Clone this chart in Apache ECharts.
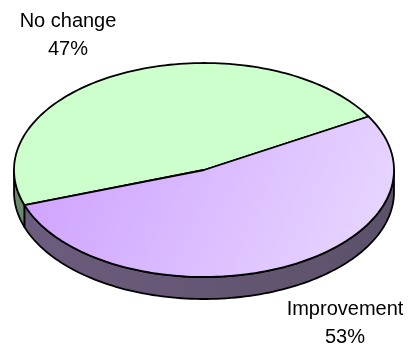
<!DOCTYPE html>
<html><head><meta charset="utf-8">
<script src="https://cdn.jsdelivr.net/npm/echarts@6/dist/echarts.min.js"></script>
<style>html,body{margin:0;padding:0;background:#fff}#c{width:412px;height:349px}</style>
</head><body><div id="c"></div>
<script>
var categories = ['No change', 'Improvement'];
var values = [47, 53];
var topColors = ['#CCFFCC', ['#CD9EFF', '#E9DAFF']];
var sideColors = ['#6B896B', ['#6C5C7E', '#5C5169']];

var total = values.reduce(function (a, b) { return a + b; }, 0);
var START = 30;      // degrees, counter-clockwise from 3 o'clock
var CX = 204, CY = 170, RX = 190, RY = 107, DEPTH = 22;

function pt(t, dz) {
  var r = t * Math.PI / 180;
  return [CX + RX * Math.cos(r), CY - RY * Math.sin(r) + dz];
}
function arc(a, b, dz) {
  var pts = [], n = Math.max(2, Math.ceil(Math.abs(b - a) / 1.5));
  for (var j = 0; j <= n; j++) pts.push(pt(a + (b - a) * j / n, dz));
  return pts;
}
function fillOf(c, horiz) {
  if (typeof c === 'string') return c;
  return new echarts.graphic.LinearGradient(0, 0, 1, horiz ? 0 : 1, [
    { offset: 0, color: c[0] }, { offset: 1, color: c[1] }
  ]);
}

function renderItem(params, api) {
  var i = params.dataIndex;
  var before = 0;
  for (var k = 0; k < i; k++) before += values[k];
  var a1 = START + before / total * 360;
  var a2 = a1 + api.value(0) / total * 360;
  var children = [];
  // front side walls: visible where sin < 0 (angles 180..360 mod 360)
  [[180, 360], [540, 720]].forEach(function (rg) {
    var lo = Math.max(a1, rg[0]), hi = Math.min(a2, rg[1]);
    if (hi > lo) {
      var pts = arc(lo, hi, 0).concat(arc(hi, lo, DEPTH));
      children.push({
        type: 'polygon', z2: 1,
        shape: { points: pts },
        style: { fill: fillOf(sideColors[i], true), stroke: '#000', lineWidth: 1.8, lineJoin: 'round' }
      });
    }
  });
  var topPts = [[CX, CY]].concat(arc(a1, a2, 0));
  children.push({
    type: 'polygon', z2: 2,
    shape: { points: topPts },
    style: { fill: fillOf(topColors[i], false), stroke: '#000', lineWidth: 1.8, lineJoin: 'round' }
  });
  return { type: 'group', children: children };
}

var labelPos = [[68, 35], [345, 323]];
var chart = echarts.init(document.getElementById('c'), null, { renderer: 'canvas' });
chart.setOption({
  animation: false,
  backgroundColor: '#ffffff',
  series: [{
    type: 'custom',
    coordinateSystem: 'none',
    renderItem: renderItem,
    data: values.map(function (v, i) { return [v, i]; })
  }],
  graphic: categories.map(function (c, i) {
    return {
      type: 'text', x: labelPos[i][0], y: labelPos[i][1], z: 10,
      style: {
        text: c + '\n' + Math.round(values[i] / total * 100) + '%',
        fontSize: 20, fontFamily: 'Liberation Sans', lineHeight: 28,
        align: 'center', verticalAlign: 'middle', fill: '#000'
      }
    };
  })
});
</script></body></html>
